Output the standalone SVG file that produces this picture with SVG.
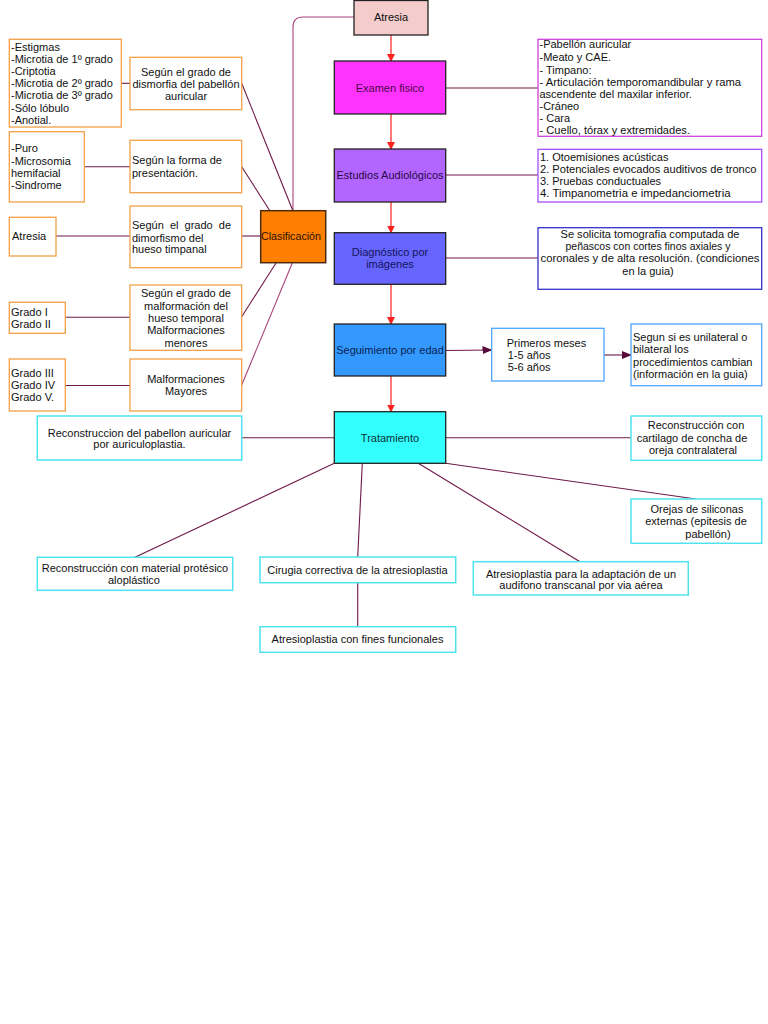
<svg xmlns="http://www.w3.org/2000/svg" width="768" height="1024" viewBox="0 0 768 1024">
<style>
text{font-family:"Liberation Sans",Arial,sans-serif;font-size:11px;fill:#111}
.c{text-anchor:middle}
.main{stroke:#222;stroke-width:1.3}
.or{fill:#fff;stroke:#f2a048;stroke-width:1.3}
.cy{fill:#fff;stroke:#4de3ef;stroke-width:1.5}
.ln{fill:none;stroke:#6e1848;stroke-width:1.1}
.lnp{fill:none;stroke:#a8457a;stroke-width:1.1}
.red{fill:none;stroke:#ff3030;stroke-width:1.3}
</style>
<defs>
<marker id="ar" markerWidth="8" markerHeight="8" refX="7" refY="4" orient="auto" markerUnits="userSpaceOnUse">
<path d="M0,0 L8,4 L0,8 Z" fill="#ff2020"/>
</marker>
<marker id="am" markerWidth="10" markerHeight="8" refX="9" refY="4" orient="auto" markerUnits="userSpaceOnUse">
<path d="M0,0 L10,4 L0,8 Z" fill="#5a0a38"/>
</marker>
</defs>
<rect width="768" height="1024" fill="#fff"/>

<g id="connectors">
<path class="lnp" d="M354,17 H303 Q293,17 293,27 V211"/>
<line class="red" x1="391" y1="35" x2="391" y2="61" marker-end="url(#ar)"/>
<line class="red" x1="391" y1="114" x2="391" y2="149" marker-end="url(#ar)"/>
<line class="red" x1="391" y1="202" x2="391" y2="232.5" marker-end="url(#ar)"/>
<line class="red" x1="391" y1="284.5" x2="391" y2="324" marker-end="url(#ar)"/>
<line class="red" x1="391" y1="376" x2="391" y2="411.5" marker-end="url(#ar)"/>
<line class="ln" x1="445.7" y1="88" x2="538" y2="88"/>
<line class="ln" x1="445.7" y1="175" x2="538" y2="175"/>
<line class="ln" x1="445.7" y1="258" x2="538" y2="258"/>
<line class="ln" x1="445.7" y1="350.5" x2="491.5" y2="350" marker-end="url(#am)"/>
<line class="ln" x1="604" y1="355" x2="631" y2="355" marker-end="url(#am)"/>
<line class="ln" x1="121.3" y1="83.3" x2="130" y2="83.3"/>
<line class="ln" x1="84.3" y1="166.7" x2="130" y2="166.7"/>
<line class="ln" x1="56" y1="236" x2="130" y2="236"/>
<line class="ln" x1="241.7" y1="236" x2="260.7" y2="236"/>
<line class="ln" x1="65.3" y1="317.3" x2="130" y2="317.3"/>
<line class="ln" x1="65.3" y1="385.5" x2="130" y2="385.5"/>
<line class="ln" x1="241.7" y1="83.3" x2="293" y2="211"/>
<line class="ln" x1="241.7" y1="166.7" x2="270" y2="211"/>
<line class="ln" x1="276" y1="263" x2="241.7" y2="316.7"/>
<line class="lnp" x1="292.3" y1="263" x2="241.7" y2="385"/>
<line class="ln" x1="241.7" y1="437.8" x2="334.3" y2="437.8"/>
<line class="ln" x1="445.7" y1="437.8" x2="631" y2="437.8"/>
<line class="ln" x1="334.3" y1="463.3" x2="135" y2="557.3"/>
<line class="ln" x1="362.3" y1="463.3" x2="357.7" y2="557"/>
<line class="ln" x1="357.7" y1="582.7" x2="357.7" y2="626.7"/>
<line class="ln" x1="418.3" y1="463.3" x2="580" y2="561.7"/>
<line class="ln" x1="445.7" y1="463.3" x2="696" y2="499"/>
</g>

<g id="atresia-top">
<rect class="main" x="354" y="0.5" width="74" height="34.5" fill="#f4cccc"/>
<text class="c" x="391" y="21">Atresia</text>
</g>
<g id="examen">
<rect class="main" x="334.3" y="61" width="111.4" height="53" fill="#ff33ff"/>
<text class="c" x="390" y="92" style="fill:#4a0a4a">Examen fisico</text>
</g>
<g id="estudios">
<rect class="main" x="334.3" y="149" width="111.4" height="53" fill="#b266ff"/>
<text class="c" x="390" y="179" style="fill:#2a0848">Estudios Audiológicos</text>
</g>
<g id="diagnostico">
<rect class="main" x="334.3" y="232.7" width="111.4" height="51.6" fill="#6666ff"/>
<text class="c" x="390" y="256" style="fill:#14145a">Diagnóstico por</text>
<text class="c" x="390" y="268" style="fill:#14145a">imágenes</text>
</g>
<g id="seguimiento">
<rect class="main" x="334.3" y="324" width="111.4" height="52" fill="#3399ff"/>
<text class="c" x="390" y="354" style="fill:#0a2250">Seguimiento por edad</text>
</g>
<g id="tratamiento">
<rect class="main" x="334.3" y="411.7" width="111.4" height="51.6" fill="#33ffff"/>
<text class="c" x="390" y="442" style="fill:#0a3333">Tratamiento</text>
</g>
<g id="clasificacion">
<rect x="260.7" y="210.7" width="65" height="52" fill="#ff8000" stroke="#4a2a10" stroke-width="1.5"/>
<text x="261" y="240" textLength="60" lengthAdjust="spacingAndGlyphs" style="fill:#2a1000">Clasificación</text>
</g>

<g id="examen-detalle">
<rect x="538" y="39.3" width="223.7" height="97" fill="#fff" stroke="#cc44dd" stroke-width="1.3"/>
<text x="539.5" y="48.3">-Pabellón auricular</text>
<text x="539.5" y="61">-Meato y CAE.</text>
<text x="539.5" y="73.5">- Timpano:</text>
<text x="539.5" y="85.8" textLength="201.5" lengthAdjust="spacingAndGlyphs">- Articulación temporomandibular y rama</text>
<text x="539.5" y="98">ascendente del maxilar inferior.</text>
<text x="539.5" y="110">-Cráneo</text>
<text x="539.5" y="122">- Cara</text>
<text x="539.5" y="134" textLength="150.5" lengthAdjust="spacingAndGlyphs">- Cuello, tórax y extremidades.</text>
</g>
<g id="audio-detalle">
<rect x="538" y="149.3" width="223.7" height="52.7" fill="#fff" stroke="#a64dff" stroke-width="1.3"/>
<text x="540" y="160.7">1.  Otoemisiones acústicas</text>
<text x="540" y="173.2" textLength="216.5" lengthAdjust="spacingAndGlyphs">2. Potenciales evocados auditivos de tronco</text>
<text x="540" y="185">3.  Pruebas conductuales</text>
<text x="540" y="196.7" textLength="190.5" lengthAdjust="spacingAndGlyphs">4.  Timpanometria e impedanciometria</text>
</g>
<g id="diag-detalle">
<rect x="538" y="227.7" width="223.7" height="61.6" fill="#fff" stroke="#3333cc" stroke-width="1.3"/>
<text class="c" x="650" y="238.3" textLength="179" lengthAdjust="spacingAndGlyphs">Se solicita tomografia computada de</text>
<text class="c" x="648" y="250" textLength="165" lengthAdjust="spacingAndGlyphs">peñascos con cortes finos axiales y</text>
<text class="c" x="650" y="262" textLength="219" lengthAdjust="spacingAndGlyphs">coronales y de alta resolución.  (condiciones</text>
<text class="c" x="648" y="275">en la guia)</text>
</g>
<g id="primeros">
<rect x="491.7" y="328.3" width="112.3" height="52.7" fill="#fff" stroke="#4da6ff" stroke-width="1.3"/>
<text x="506.7" y="346.7">Primeros meses</text>
<text x="507.7" y="359.3">1-5 años</text>
<text x="507.7" y="370.7">5-6 años</text>
</g>
<g id="segun-si">
<rect x="631" y="324" width="130.7" height="61.7" fill="#fff" stroke="#4da6ff" stroke-width="1.3"/>
<text x="633" y="340.7" textLength="114.5" lengthAdjust="spacingAndGlyphs">Segun si es unilateral o</text>
<text x="633" y="353">bilateral los</text>
<text x="633" y="365.7" textLength="119.5" lengthAdjust="spacingAndGlyphs">procedimientos cambian</text>
<text x="633" y="378" textLength="114.7" lengthAdjust="spacingAndGlyphs">(información en la guia)</text>
</g>

<g id="estigmas">
<rect class="or" x="9.3" y="39.3" width="112" height="87.7"/>
<text x="11" y="50.7">-Estigmas</text>
<text x="11" y="63">-Microtia de 1º grado</text>
<text x="11" y="75">-Criptotia</text>
<text x="11" y="87">-Microtia de 2º grado</text>
<text x="11" y="99">-Microtia de 3º grado</text>
<text x="11" y="111.7">-Sólo lóbulo</text>
<text x="11" y="124">-Anotial.</text>
</g>
<g id="dismorfia">
<rect class="or" x="130" y="57.3" width="111.7" height="52.4"/>
<text class="c" x="186" y="75.7">Según el grado de</text>
<text class="c" x="186" y="88">dismorfia del pabellón</text>
<text class="c" x="186" y="100">auricular</text>
</g>
<g id="puro">
<rect class="or" x="9.3" y="131.7" width="75" height="70.3"/>
<text x="11" y="152.3">-Puro</text>
<text x="11" y="164.7">-Microsomia</text>
<text x="11" y="176.7">hemifacial</text>
<text x="11" y="189">-Sindrome</text>
</g>
<g id="forma">
<rect class="or" x="130" y="140.3" width="111.7" height="52.4"/>
<text x="132" y="164.3">Según la forma de</text>
<text x="132" y="176.7">presentación.</text>
</g>
<g id="atresia-izq">
<rect class="or" x="9.3" y="217.3" width="46.7" height="38.7"/>
<text x="12" y="240">Atresia</text>
</g>
<g id="timpanal">
<rect class="or" x="130" y="206" width="111.7" height="61.7"/>
<text x="132" y="229" textLength="99" lengthAdjust="spacing" style="word-spacing:3px">Según  el  grado  de</text>
<text x="132" y="241.7">dimorfismo  del</text>
<text x="132" y="253">hueso  timpanal</text>
</g>
<g id="grado12">
<rect class="or" x="9.3" y="302.3" width="56" height="31"/>
<text x="11" y="316.3">Grado I</text>
<text x="11" y="328">Grado II</text>
</g>
<g id="temporal">
<rect class="or" x="130" y="285" width="111.7" height="65.3"/>
<text class="c" x="186" y="297.3">Según el grado de</text>
<text class="c" x="186" y="309.7">malformación del</text>
<text class="c" x="186" y="322">hueso temporal</text>
<text class="c" x="186" y="334.3">Malformaciones</text>
<text class="c" x="186" y="347">menores</text>
</g>
<g id="grado345">
<rect class="or" x="9.3" y="359" width="56" height="52"/>
<text x="11" y="377.3">Grado III</text>
<text x="11" y="389.3">Grado IV</text>
<text x="11" y="401.3">Grado V.</text>
</g>
<g id="mayores">
<rect class="or" x="130" y="359" width="111.7" height="52"/>
<text class="c" x="186" y="383">Malformaciones</text>
<text class="c" x="186" y="395.3">Mayores</text>
</g>

<g id="auriculoplastia">
<rect class="cy" x="37.3" y="416" width="204.4" height="44"/>
<text class="c" x="139.5" y="436.7">Reconstruccion del pabellon auricular</text>
<text class="c" x="139.5" y="448.3">por auriculoplastia.</text>
</g>
<g id="aloplastico">
<rect class="cy" x="37.3" y="557.3" width="195.4" height="33"/>
<text class="c" x="135" y="571.7">Reconstrucción con material protésico</text>
<text class="c" x="134" y="584.3">aloplástico</text>
</g>
<g id="cirugia">
<rect class="cy" x="260" y="557" width="195.7" height="25.7"/>
<text class="c" x="357.5" y="574">Cirugia correctiva de la atresioplastia</text>
</g>
<g id="fines">
<rect class="cy" x="260" y="626.7" width="195.7" height="25.6"/>
<text class="c" x="357.5" y="643.3">Atresioplastia con fines funcionales</text>
</g>
<g id="audifono">
<rect class="cy" x="473.3" y="561.7" width="215" height="33.3"/>
<text class="c" x="581" y="577.7">Atresioplastia para la adaptación de un</text>
<text class="c" x="581" y="589.3">audifono transcanal por via  aérea</text>
</g>
<g id="cartilago">
<rect class="cy" x="631" y="416" width="130.7" height="44.3"/>
<text class="c" x="696" y="429">Reconstrucción con</text>
<text class="c" x="692" y="441.7">cartilago de concha de</text>
<text class="c" x="693" y="454.3">oreja contralateral</text>
</g>
<g id="siliconas">
<rect class="cy" x="631" y="499" width="130.7" height="44.3"/>
<text class="c" x="697" y="513">Orejas de siliconas</text>
<text class="c" x="696" y="525.3">externas (epitesis de</text>
<text class="c" x="708" y="537.7">pabellón)</text>
</g>
</svg>
